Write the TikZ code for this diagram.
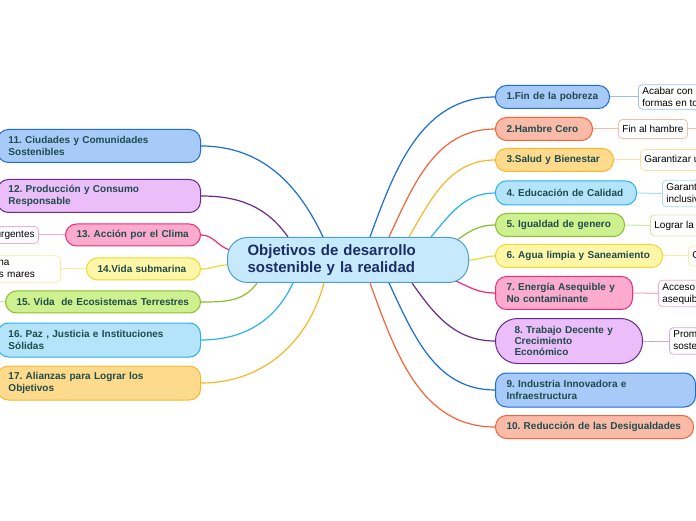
\documentclass[tikz,border=0pt]{standalone}
\usepackage{fontspec}
\setmainfont{Liberation Sans}
\usetikzlibrary{positioning}
\usetikzlibrary{calc}
\pgfdeclarelayer{background}
\pgfsetlayers{background,main}
\frenchspacing
\hyphenpenalty=10000
\exhyphenpenalty=10000

\definecolor{rootF}{HTML}{C6E9FB}
\definecolor{rootD}{HTML}{4C9FD6}
\definecolor{rootT}{HTML}{1B2C66}
\definecolor{txt}{HTML}{1E4C4C}
\definecolor{bluF}{HTML}{A7CAF9}\definecolor{bluD}{HTML}{1C6DD6}\definecolor{bluL}{HTML}{9DC0F0}
\definecolor{oraF}{HTML}{F9BBA8}\definecolor{oraD}{HTML}{F4643A}\definecolor{oraL}{HTML}{F9BCA8}
\definecolor{yelF}{HTML}{FDDA8C}\definecolor{yelD}{HTML}{F9B82A}\definecolor{yelL}{HTML}{FCE0A0}
\definecolor{cyaF}{HTML}{B3E4F9}\definecolor{cyaD}{HTML}{2AB2EE}\definecolor{cyaL}{HTML}{A6DDF5}
\definecolor{grnF}{HTML}{CDF18E}\definecolor{grnD}{HTML}{8BBF2C}\definecolor{grnL}{HTML}{CFE6A6}
\definecolor{lyeF}{HTML}{FFF6A8}\definecolor{lyeD}{HTML}{EFD92C}\definecolor{lyeL}{HTML}{F7EDA0}
\definecolor{pnkF}{HTML}{FDAACF}\definecolor{pnkD}{HTML}{EE2C7A}\definecolor{pnkL}{HTML}{F8ABCB}
\definecolor{purF}{HTML}{EBBDF9}\definecolor{purD}{HTML}{6A2A8A}\definecolor{purL}{HTML}{CDAAE0}

\tikzstyle{root}=[draw=rootD,fill=rootF,line width=1pt,rounded corners=20pt,minimum height=45pt,text width=201pt,inner xsep=20pt,align=left,text=rootT,font=\bfseries\fontsize{15}{16.7}\selectfont]
\tikzstyle{branch}=[draw,anchor=west,line width=1pt,rounded corners=11pt,inner xsep=11pt,inner ysep=3pt,align=left,text=txt,font=\bfseries\fontsize{10}{11.3}\selectfont]
\tikzstyle{lbranch}=[branch,anchor=east]
\tikzstyle{leaf}=[draw,fill=white,anchor=west,line width=0.8pt,rounded corners=4pt,inner xsep=4pt,inner ysep=2.5pt,minimum height=20pt,align=left,font=\fontsize{10}{12}\selectfont]
\tikzstyle{link}=[line width=1.2pt]
\tikzstyle{sublink}=[line width=1pt]
\tikzstyle{blu}=[fill=bluF,draw=bluD]
\tikzstyle{ora}=[fill=oraF,draw=oraD]
\tikzstyle{yel}=[fill=yelF,draw=yelD]
\tikzstyle{cya}=[fill=cyaF,draw=cyaD]
\tikzstyle{grn}=[fill=grnF,draw=grnD]
\tikzstyle{lye}=[fill=lyeF,draw=lyeD]
\tikzstyle{pnk}=[fill=pnkF,draw=pnkD]
\tikzstyle{pur}=[fill=purF,draw=purD]

\begin{document}
\begin{tikzpicture}[x=1pt,y=1pt]
	\useasboundingbox (0,0) rectangle (696,520);
	\node[root] (root) at (348,260) {Objetivos de desarrollo\\sostenible y la realidad};

	% right side
	\node[branch,blu,text width=92pt,minimum height=23pt] (b1) at (495,423) {1.Fin de la pobreza};
	\node[branch,ora,text width=75pt,minimum height=23pt] (b2) at (495,391) {2.Hambre Cero};
	\node[branch,yel,text width=96pt,minimum height=23pt] (b3) at (495,360) {3.Salud y Bienestar};
	\node[branch,cya,text width=119pt,minimum height=24pt] (b4) at (495,327) {4. Educación de Calidad};
	\node[branch,grn,text width=107pt,minimum height=23pt] (b5) at (495,295) {5. Igualdad de genero};
	\node[branch,lye,text width=145pt,minimum height=23pt] (b6) at (495,264) {6. Agua limpia y Saneamiento};
	\node[branch,pnk,text width=115pt,minimum height=33pt] (b7) at (495,227) {7. Energía Asequible y\\No contaminante};
	\node[branch,pur,text width=109pt,inner xsep=19pt,rounded corners=22pt,minimum height=45pt] (b8) at (495,179) {8. Trabajo Decente y\\Crecimiento\\Económico};
	\node[branch,blu,text width=178pt,minimum height=34pt] (b9) at (495,130) {9. Industria Innovadora e\\Infraestructura};
	\node[branch,ora,text width=176pt,minimum height=23pt] (b10) at (495,93) {10. Reducción de las Desigualdades};

	% left side
	\node[lbranch,blu,text width=181pt,minimum height=33pt] (b11) at (201,374) {11. Ciudades y Comunidades\\Sostenibles};
	\node[lbranch,pur,text width=181pt,minimum height=33pt] (b12) at (201,324) {12. Producción y Consumo\\Responsable};
	\node[lbranch,pnk,text width=113pt,minimum height=22pt] (b13) at (201,285) {13. Acción por el Clima};
	\node[lbranch,lye,text width=92pt,minimum height=22pt] (b14) at (201,251) {14.Vida submarina};
	\node[lbranch,grn,text width=173pt,minimum height=22pt] (b15) at (201,218) {15. Vida~ de Ecosistemas Terrestres};
	\node[lbranch,cya,text width=181pt,minimum height=34pt] (b16) at (201,180) {16. Paz , Justicia e Instituciones\\Sólidas};
	\node[lbranch,yel,text width=181pt,minimum height=34pt] (b17) at (201,137) {17. Alianzas para Lograr los\\Objetivos};

	% leaves
	\node[leaf,draw=bluL] (s1) at (638,423) {Acabar con la pobreza en todas sus\\formas en todo el mundo};
	\node[leaf,draw=oraL,minimum height=19pt] (s2) at (618,391) {Fin al hambre};
	\node[leaf,draw=yelL,minimum height=21pt] (s3) at (640,360) {Garantizar una vida sana y promover el bienestar};
	\node[leaf,draw=cyaL] (s4) at (662,326.5) {Garantizar una educación\\inclusiva, equitativa y de calidad};
	\node[leaf,draw=grnL,minimum height=21pt] (s5) at (650,294.5) {Lograr la igualdad de género};
	\node[leaf,draw=lyeL] (s6) at (688,264) {Garantizar la disponibilidad de agua};
	\node[leaf,draw=pnkL] (s7) at (658,226.5) {Acceso a una energía\\asequible, segura y sostenible};
	\node[leaf,draw=purL] (s8) at (669,179) {Promover el crecimiento económico\\sostenido, inclusivo y sostenible};
	\node[leaf,draw=pnkL,anchor=east,minimum height=17pt] (s13) at (39,285) {Adoptar medidas urgentes};
	\node[leaf,draw=lyeL,anchor=east,text width=160pt] (s14) at (61,251) {Conservar la vida marina\\de los océanos y de los mares};
	\coordinate (s2x) at (705,391);
	\coordinate (s15x) at (-10,218);

	\begin{pgfonlayer}{background}
		\fill[white] (0,0) rectangle (696,520);
		\draw[link,bluD] ([xshift=22pt]root.north) to[out=70,in=180] (b1.west);
		\draw[link,oraD] ([xshift=41pt]root.north) to[out=65,in=180] (b2.west);
		\draw[link,yelD] ([xshift=61pt]root.north) to[out=60,in=180] (b3.west);
		\draw[link,cyaD] ([xshift=83pt]root.north) to[out=50,in=180] (b4.west);
		\draw[link,grnD] ([xshift=109pt,yshift=-3pt]root.north) to[out=35,in=180] (b5.west);
		\draw[link,lyeD] (root.east) to[out=0,in=180] (b6.west);
		\draw[link,pnkD] ([xshift=106pt,yshift=3pt]root.south) to[out=-25,in=180] (b7.west);
		\draw[link,purD] ([xshift=64pt]root.south) to[out=-55,in=180] (b8.west);
		\draw[link,bluD] ([xshift=41pt]root.south) to[out=-65,in=180] (b9.west);
		\draw[link,oraD] ([xshift=22pt]root.south) to[out=-70,in=180] (b10.west);
		\draw[link,bluD] ([xshift=-25pt]root.north) to[out=115,in=0] (b11.east);
		\draw[link,purD] ([xshift=-60pt]root.north) to[out=125,in=0] (b12.east);
		\draw[link,pnkD] ([xshift=3pt,yshift=10pt]root.west) to[out=165,in=0] (b13.east);
		\draw[link,lyeD] ([yshift=-5pt]root.west) to[out=180,in=0] (b14.east);
		\draw[link,grnD] ([xshift=-91pt]root.south) to[out=-125,in=0] (b15.east);
		\draw[link,cyaD] ([xshift=-55pt]root.south) to[out=-115,in=0] (b16.east);
		\draw[link,yelD] ([xshift=-24pt]root.south) to[out=-105,in=0] (b17.east);

		\draw[sublink,bluL] (b1.east) -- (s1.west);
		\draw[sublink,oraL] (b2.east) -- (s2.west);
		\draw[sublink,oraL] (s2.east) -- (s2x);
		\draw[sublink,yelL] (b3.east) -- (s3.west);
		\draw[sublink,cyaL] (b4.east) -- (s4.west);
		\draw[sublink,grnL] (b5.east) -- (s5.west);
		\draw[sublink,lyeL] (b6.east) -- (s6.west);
		\draw[sublink,pnkL] (b7.east) -- (s7.west);
		\draw[sublink,purL] (b8.east) -- (s8.west);
		\draw[sublink,pnkL] (b13.west) -- (s13.east);
		\draw[sublink,lyeL] (b14.west) -- (s14.east);
		\draw[sublink,grnL] (b15.west) -- (s15x);
	\end{pgfonlayer}
\end{tikzpicture}
\end{document}
